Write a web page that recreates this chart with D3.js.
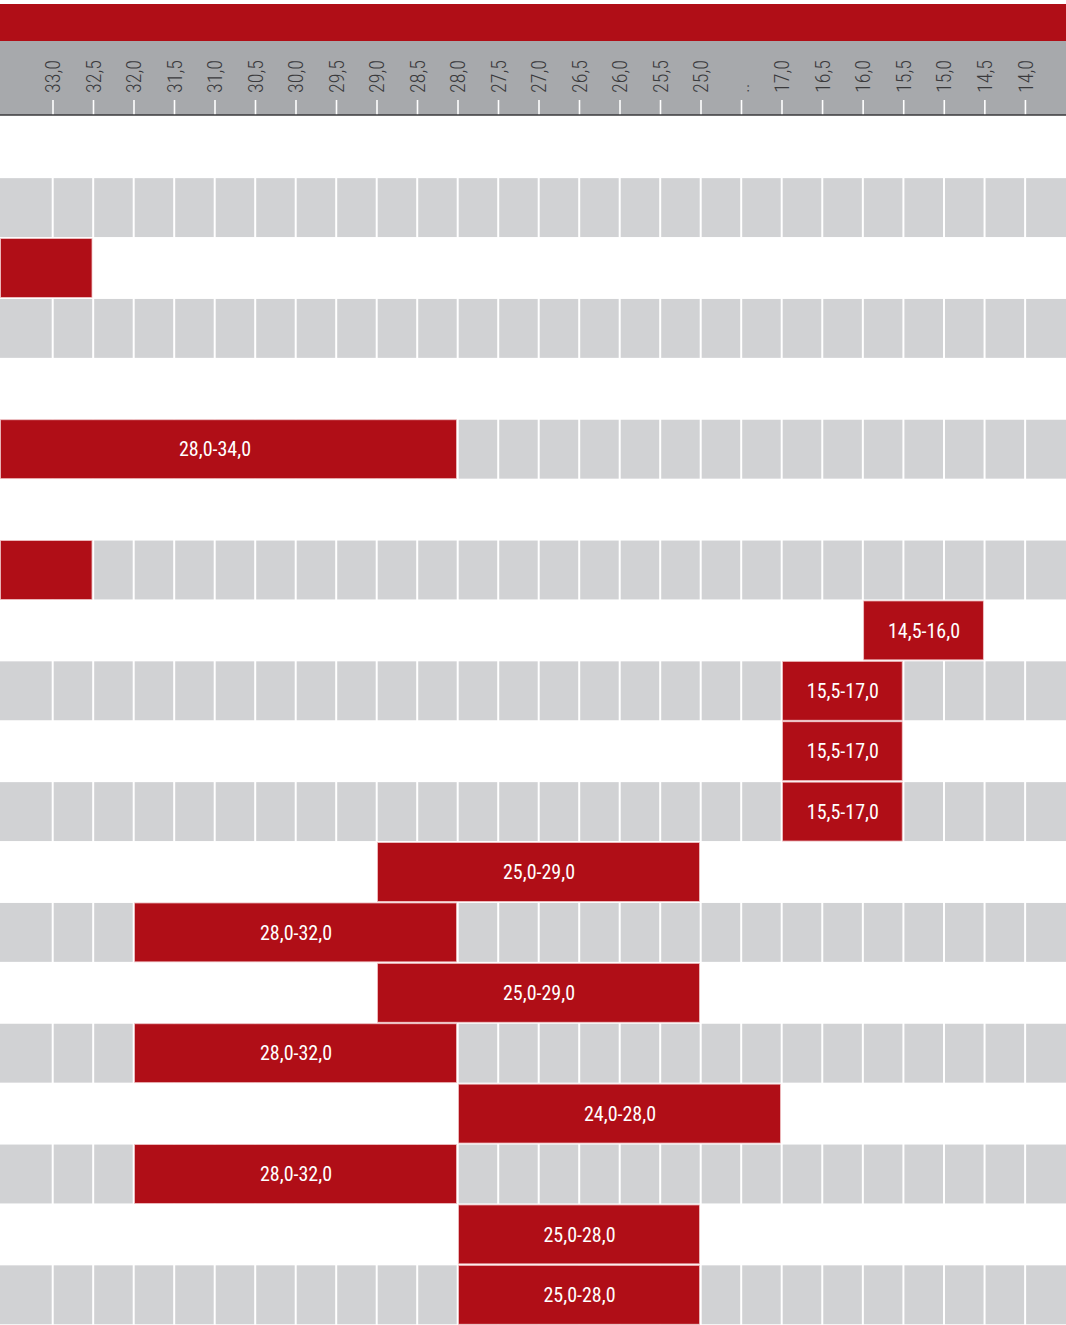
<!DOCTYPE html>
<html>
<head>
<meta charset="utf-8">
<script src="https://cdn.jsdelivr.net/npm/d3@7"></script>
<style>
  body { margin: 0; background: #fff; }
  svg { display: block; }
  text { font-family: "Roboto Condensed", "Liberation Sans Narrow", "DejaVu Sans Condensed", sans-serif; }
</style>
</head>
<body>
<div id="chart"></div>
<script>
// axis ticks (value -> label), ".." marks the gap between 25 and 17
const tickValues = [33, 32.5, 32, 31.5, 31, 30.5, 30, 29.5, 29, 28.5, 28, 27.5, 27, 26.5, 26, 25.5, 25, 24.5,
                    17, 16.5, 16, 15.5, 15, 14.5, 14];
const tickLabels = ["33,0", "32,5", "32,0", "31,5", "31,0", "30,5", "30,0", "29,5", "29,0", "28,5", "28,0", "27,5",
                    "27,0", "26,5", "26,0", "25,5", "25,0", "..", "17,0", "16,5", "16,0", "15,5", "15,0", "14,5", "14,0"];

// one entry per row, null = empty row
const rangeLow  = [null, null, 32.5, null, null, 28, null, 32.5, 14.5, 15.5, 15.5, 15.5, 25, 28, 25, 28, 24, 28, 25, 25];
const rangeHigh = [null, null, 34,   null, null, 34, null, 34,   16,   17,   17,   17,   29, 32, 29, 32, 28, 32, 28, 28];
const rangeLabels = ["", "", "", "", "", "28,0-34,0", "", "", "14,5-16,0", "15,5-17,0", "15,5-17,0", "15,5-17,0",
                     "25,0-29,0", "28,0-32,0", "25,0-29,0", "28,0-32,0", "24,0-28,0", "28,0-32,0", "25,0-28,0", "25,0-28,0"];

const width = 1066, height = 1325;
const red = "#b00e17", headGrey = "#a7a9ac", cellGrey = "#d1d2d4";
const gridTop = 117;

const svg = d3.select("#chart").append("svg")
    .attr("width", width)
    .attr("height", height);

// broken scale: everything between 24 and 17 collapses onto the 17,0 tick
const x = d3.scaleLinear()
    .domain([34, 25, 24, 17, 13.5])
    .range([-28, 701, 782, 782, 1066]);

const rows = d3.range(rangeLow.length);
const y = d3.scaleBand().domain(rows).range([gridTop, height]).paddingInner(0);
const gap = 1.5;

// header
svg.append("rect").attr("x", 0).attr("y", 4).attr("width", width).attr("height", 37).attr("fill", red);
svg.append("rect").attr("x", 0).attr("y", 41).attr("width", width).attr("height", 74).attr("fill", headGrey);

const axisG = svg.append("g").attr("transform", "translate(0,115)");
const ticks = axisG.selectAll("g.tick")
    .data(tickValues)
    .enter().append("g")
    .attr("class", "tick")
    .attr("transform", d => `translate(${x(d)},0)`);

ticks.append("line")
    .attr("y1", -15).attr("y2", 0)
    .attr("stroke", "#fff")
    .attr("stroke-width", 1.6);

ticks.append("text")
    .attr("transform", "translate(0,-22) rotate(-90)")
    .attr("dy", "0.36em")
    .attr("text-anchor", "start")
    .attr("fill", "#3a3a3c")
    .style("font-size", "20px")
    .style("font-weight", 300)
    .text((d, i) => tickLabels[i]);

axisG.append("line")
    .attr("x1", 0).attr("x2", width)
    .attr("stroke", "#3a3a3c")
    .attr("stroke-width", 1.5);

// rows: odd rows are grey with white cell dividers
const rowG = svg.append("g");
rows.filter(i => i % 2 === 1).forEach(i => {
    rowG.append("rect")
        .attr("x", 0).attr("y", y(i) + gap / 2)
        .attr("width", width).attr("height", y.bandwidth() - gap)
        .attr("fill", cellGrey);
    rowG.selectAll(null)
        .data(tickValues)
        .enter().append("line")
        .attr("x1", d => x(d) - 0.3).attr("x2", d => x(d) - 0.3)
        .attr("y1", y(i)).attr("y2", y(i) + y.bandwidth())
        .attr("stroke", "#fff")
        .attr("stroke-width", 2);
});

// range bars
const bars = svg.append("g").selectAll("g")
    .data(rows.filter(i => rangeLow[i] !== null))
    .enter().append("g");

bars.append("rect")
    .attr("x", i => Math.max(0, x(rangeHigh[i])) + 0.5)
    .attr("y", i => y(i) + gap / 2)
    .attr("width", i => x(rangeLow[i]) - Math.max(0, x(rangeHigh[i])) - 2)
    .attr("height", y.bandwidth() - gap)
    .attr("fill", red)
    .attr("stroke", "#f0c3c5")
    .attr("stroke-width", 0.8);

bars.append("text")
    .attr("x", i => (x(rangeHigh[i]) + x(rangeLow[i])) / 2)
    .attr("y", i => y(i) + y.bandwidth() / 2)
    .attr("dy", "0.36em")
    .attr("text-anchor", "middle")
    .attr("fill", "#fff")
    .style("font-size", "20px")
    .text(i => rangeLabels[i]);
</script>
</body>
</html>
